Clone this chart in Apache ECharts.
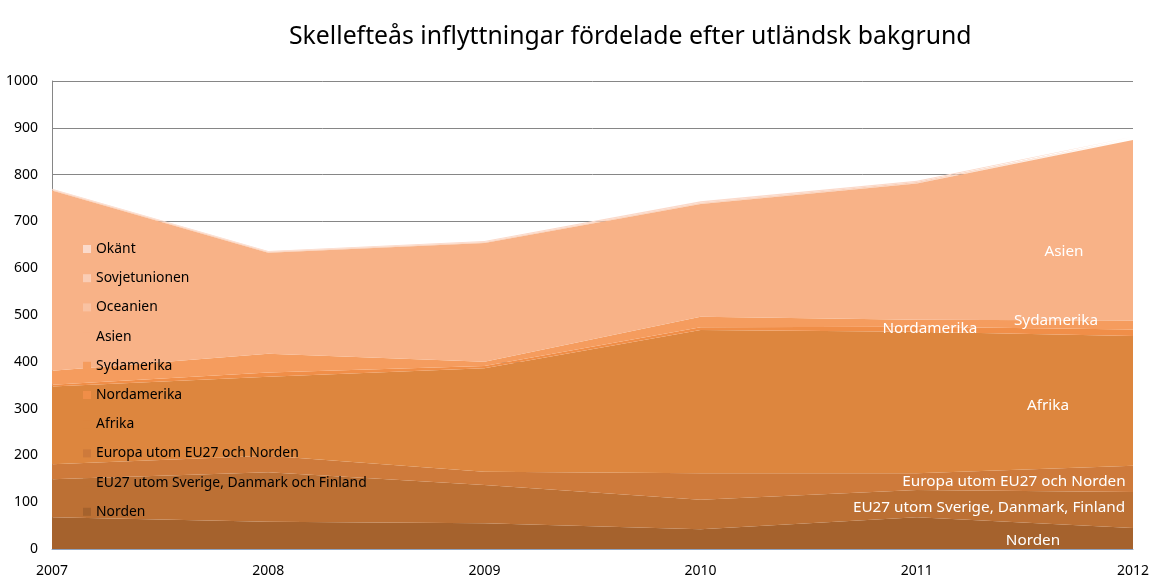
<!DOCTYPE html>
<html>
<head>
<meta charset="utf-8">
<script src="https://cdn.jsdelivr.net/npm/echarts@6/dist/echarts.min.js"></script>
<style>
html,body{margin:0;padding:0;background:#fff;}
#chart{width:1169px;height:584px;}
</style>
</head>
<body>
<div id="chart"></div>
<script>
const years = ['2007','2008','2009','2010','2011','2012'];
const norden = [68, 58, 55, 42, 68, 45];
const eu27 = [81, 106, 82, 63, 58, 77];
const europa = [32, 35, 28, 57, 36, 56];
const afrika = [166, 169, 221, 306, 302, 277];
const nordamerika = [4, 9, 5, 6, 11, 14];
const sydamerika = [30, 40, 9, 22, 15, 19];
const asien = [385, 216, 254, 241, 291, 386];
const oceanien = [1, 1, 1, 1, 1, 1];
const sovjet = [1, 1, 1, 2, 2, 2];
const okant = [2, 2, 2, 3, 3, 4];
const yTicks = [0,100,200,300,400,500,600,700,800,900,1000];

const FONT = '"Noto Sans", "DejaVu Sans", sans-serif';

const defs = [
  {name:'Norden', data:norden, color:'#A5622D', lbl:{text:'Norden', cat:'2012', val:17, dx:-100}},
  {name:'EU27 utom Sverige, Danmark och Finland', data:eu27, color:'#BC7034', lbl:{text:'EU27 utom Sverige, Danmark, Finland', cat:'2012', val:88, dx:-144}},
  {name:'Europa utom EU27 och Norden', data:europa, color:'#CE7A3B', lbl:{text:'Europa utom EU27 och Norden', cat:'2012', val:145, dx:-119}},
  {name:'Afrika', data:afrika, color:'#DD863E', lbl:{text:'Afrika', cat:'2012', val:306, dx:-85}},
  {name:'Nordamerika', data:nordamerika, color:'#F08E48', lbl:{text:'Nordamerika', cat:'2011', val:470, dx:13}},
  {name:'Sydamerika', data:sydamerika, color:'#F59C5E', lbl:{text:'Sydamerika', cat:'2012', val:487, dx:-77}},
  {name:'Asien', data:asien, color:'#F8B287', lbl:{text:'Asien', cat:'2012', val:635, dx:-69}},
  {name:'Oceanien', data:oceanien, color:'#F9C2A2'},
  {name:'Sovjetunionen', data:sovjet, color:'#FACDB5'},
  {name:'Okänt', data:okant, color:'#FBDACB'}
];

const series = defs.map(d => {
  const s = {
    name: d.name,
    type: 'line',
    stack: 'total',
    data: d.data,
    symbol: 'none',
    lineStyle: {width: 0},
    areaStyle: {color: d.color, opacity: 1},
    itemStyle: {color: d.color},
    emphasis: {disabled: true},
    z: 2
  };
  if (d.lbl) {
    s.markPoint = {
      symbol: 'circle',
      symbolSize: 0,
      silent: true,
      data: [{
        coord: [d.lbl.cat, d.lbl.val],
        label: {
          show: true,
          formatter: d.lbl.text,
          color: '#fff',
          fontSize: 15.3,
          fontFamily: FONT,
          offset: [d.lbl.dx, 0],
          position: 'inside'
        }
      }]
    };
  }
  return s;
});

const chart = echarts.init(document.getElementById('chart'));
chart.setOption({
  animation: false,
  backgroundColor: '#fff',
  title: {
    text: 'Skellefteås inflyttningar fördelade efter utländsk bakgrund',
    left: 284,
    top: 19,
    textStyle: {fontFamily: FONT, fontSize: 24.8, fontWeight: 'normal', color: '#000'}
  },
  grid: {left: 52, right: 36, top: 81, bottom: 35, containLabel: false},
  legend: {
    orient: 'vertical',
    left: 78,
    top: 236,
    icon: 'rect',
    itemWidth: 8,
    itemHeight: 8,
    itemGap: 13.2,
    textStyle: {fontFamily: FONT, fontSize: 13.9, color: '#000', lineHeight: 16},
    data: defs.map(d => d.name).reverse(),
    selectedMode: false
  },
  xAxis: {
    type: 'category',
    data: years,
    boundaryGap: false,
    axisLine: {show: true, lineStyle: {color: '#8FA3BF'}},
    axisTick: {show: false},
    axisLabel: {fontFamily: FONT, fontSize: 14, color: '#000', margin: 15},
    splitLine: {show: false}
  },
  yAxis: {
    type: 'value',
    min: 0,
    max: 1000,
    interval: 100,
    axisLine: {show: true, lineStyle: {color: '#868686'}},
    axisTick: {show: false},
    axisLabel: {fontFamily: FONT, fontSize: 14, color: '#000', margin: 14,
      formatter: v => yTicks.includes(v) ? String(v) : ''},
    splitLine: {show: true, lineStyle: {color: '#868686', width: 1}}
  },
  series: series
});
</script>
</body>
</html>
